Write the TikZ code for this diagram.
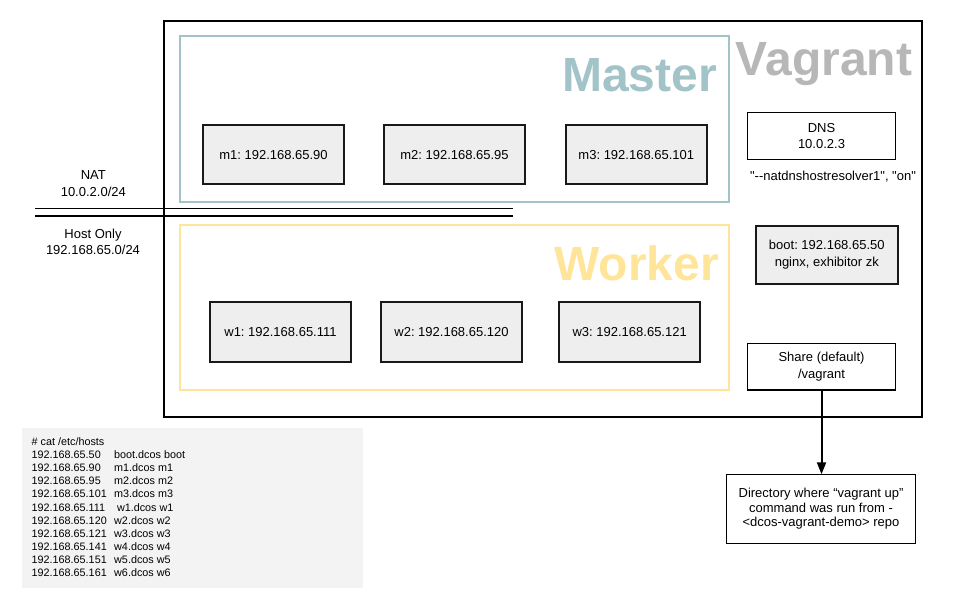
\documentclass[tikz,border=0pt]{standalone}
\usepackage{fontspec}
\setmainfont{Liberation Sans}[Ligatures=TeXOff]
\usetikzlibrary{arrows.meta}
\definecolor{vgrey}{HTML}{B7B7B7}
\definecolor{mteal}{HTML}{A2C4C9}
\definecolor{wyel}{HTML}{FFE599}
\definecolor{nfill}{HTML}{EEEEEE}
\definecolor{hfill}{HTML}{F3F3F3}
\frenchspacing
\begin{document}
\begin{tikzpicture}[x=1pt,y=-1pt,
  every node/.style={inner sep=0pt, outer sep=0pt},
  container/.style={draw, line width=2pt},
  title/.style={font=\fontsize{48}{50}\selectfont\bfseries, anchor=base east},
  ipbox/.style={draw=black!90, line width=1.8pt, fill=nfill, minimum width=141pt, minimum height=59pt, align=center, font=\fontsize{13}{16.5}\selectfont},
  infobox/.style={draw=black, line width=1.2pt, fill=white, minimum width=147.6pt, minimum height=46.6pt, align=center, font=\fontsize{13}{16.4}\selectfont},
  plain/.style={align=center, font=\fontsize{13}{16.5}\selectfont},
  hostline/.style={anchor=base west, font=\fontsize{10.8}{13}\selectfont},
  netline/.style={line width=1.6pt, draw=black}
]
\useasboundingbox (0,0) rectangle (960,600);
\fill[white] (0,0) rectangle (960,600);

% containers
\node[container, draw=black, minimum width=757.5pt, minimum height=396pt] (vagrant) at (542.9,218.5) {};
\node[container, draw=mteal, minimum width=548.7pt, minimum height=165.7pt] (master) at (454.35,118.85) {};
\node[container, draw=wyel, minimum width=549pt, minimum height=165pt] (worker) at (454.5,307.5) {};

% titles
\node[title, text=vgrey] (vtitle) at (912,75) {Vagrant};
\node[title, text=mteal] (mtitle) at (717,91.7) {Master};
\node[title, text=wyel] (wtitle) at (719,280.7) {Worker};

% master nodes
\node[ipbox] (m1) at (273.5,154.7) {m1: 192.168.65.90};
\node[ipbox] (m2) at (454.5,154.7) {m2: 192.168.65.95};
\node[ipbox] (m3) at (636.3,154.7) {m3: 192.168.65.101};

% worker nodes
\node[ipbox, minimum height=60pt] (w1) at (280.5,332) {w1: 192.168.65.111};
\node[ipbox, minimum height=60pt] (w2) at (451.5,332) {w2: 192.168.65.120};
\node[ipbox, minimum height=60pt] (w3) at (629.7,332) {w3: 192.168.65.121};

% right column
\node[infobox] (dns) at (821.5,136) {DNS\\10.0.2.3};
\node[plain] (dnsopt) at (833,176.7) {"--natdnshostresolver1", "on"};
\node[ipbox, minimum width=141.7pt, minimum height=58.3pt, font=\fontsize{13}{17}\selectfont] (boot) at (826.8,254.8) {boot: 192.168.65.50\\nginx, exhibitor zk};
\node[infobox] (share) at (821.5,366.7) {Share (default)\\/vagrant};
\node[infobox, minimum width=188.3pt, minimum height=69pt, font=\fontsize{13}{14.6}\selectfont] (dir) at (821,508.8) {Directory where “vagrant up”\\command was run from -\\<dcos-vagrant-demo> repo};

\draw[line width=2pt, -{Triangle[width=9pt,length=12pt]}] (share.south) -- (share.south |- dir.north);

% networks
\coordinate (natL) at (35,208.3);
\coordinate (natR) at (512.7,208.3);
\coordinate (hostL) at (35,216);
\coordinate (hostR) at (512.7,216);
\draw[netline] (natL) -- (natR);
\draw[netline] (hostL) -- (hostR);
\node[plain] (natlabel) at (93.3,183.4) {NAT\\10.0.2.0/24};
\node[plain] (hostlabel) at (93,242) {Host Only\\192.168.65.0/24};

% hosts file
\node[fill=hfill, minimum width=341pt, minimum height=160pt] (hosts) at (192.2,508) {};
\node[hostline] (h0) at (31.7,445.5) {\# cat /etc/hosts};
\node[hostline] (h1) at (31.7,458.6) {192.168.65.50};
\node[hostline] (h1b) at (114.2,458.6) {boot.dcos boot};
\node[hostline] (h2) at (31.7,471.7) {192.168.65.90};
\node[hostline] (h2b) at (114.2,471.7) {m1.dcos m1};
\node[hostline] (h3) at (31.7,484.8) {192.168.65.95};
\node[hostline] (h3b) at (114.2,484.8) {m2.dcos m2};
\node[hostline] (h4) at (31.7,497.9) {192.168.65.101};
\node[hostline] (h4b) at (114.2,497.9) {m3.dcos m3};
\node[hostline] (h5) at (31.7,511) {192.168.65.111};
\node[hostline] (h5b) at (117,511) {w1.dcos w1};
\node[hostline] (h6) at (31.7,524.1) {192.168.65.120};
\node[hostline] (h6b) at (114.2,524.1) {w2.dcos w2};
\node[hostline] (h7) at (31.7,537.2) {192.168.65.121};
\node[hostline] (h7b) at (114.2,537.2) {w3.dcos w3};
\node[hostline] (h8) at (31.7,550.3) {192.168.65.141};
\node[hostline] (h8b) at (114.2,550.3) {w4.dcos w4};
\node[hostline] (h9) at (31.7,563.4) {192.168.65.151};
\node[hostline] (h9b) at (114.2,563.4) {w5.dcos w5};
\node[hostline] (h10) at (31.7,576.5) {192.168.65.161};
\node[hostline] (h10b) at (114.2,576.5) {w6.dcos w6};
\end{tikzpicture}
\end{document}
